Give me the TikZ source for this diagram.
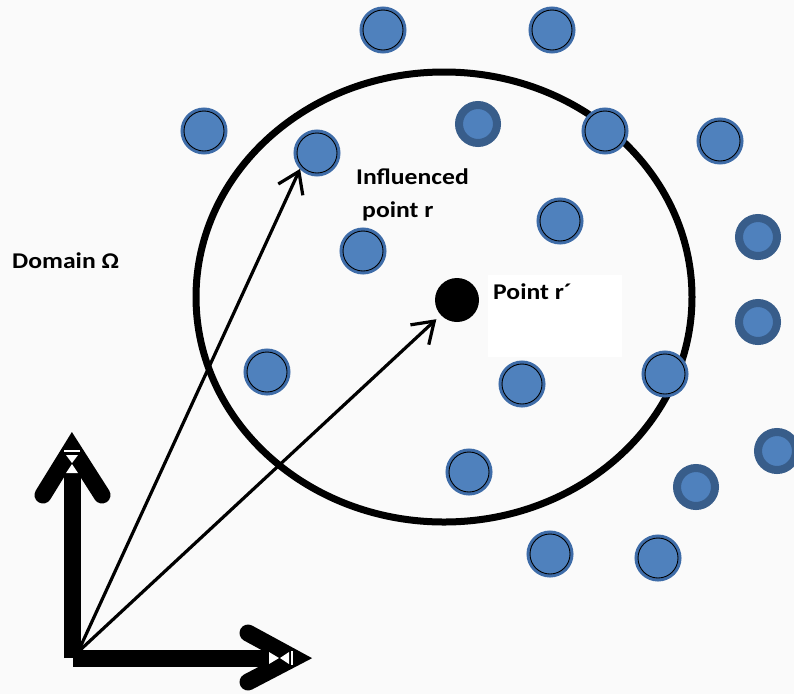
\documentclass[tikz,border=0pt]{standalone}
\usepackage{fontspec}
\setmainfont{Carlito}
\usepackage{xcolor}
\usetikzlibrary{arrows.meta,positioning,calc}
\definecolor{dotblue}{HTML}{4F81BD}
\definecolor{ringA}{HTML}{3E6CA8}
\definecolor{ringB}{HTML}{385D8A}
\definecolor{paper}{HTML}{FAFAFA}

\begin{document}
\begin{tikzpicture}[x=1pt, y=-1pt,
    dotA/.style={circle, inner sep=0pt, minimum size=40pt, fill=dotblue, draw=black, line width=0.9pt,
                 preaction={draw=ringA, line width=7pt}},
    dotB/.style={circle, inner sep=0pt, minimum size=38pt, fill=dotblue, draw=ringB, line width=8pt},
    lbl/.style={inner sep=0pt, font=\fontsize{22.5}{27}\selectfont\bfseries, xscale=1.14},
    vec/.style={line width=3.2pt, -{Straight Barb[length=20pt, width=27pt]}},
    axisbar/.style={line width=17pt}]
    \useasboundingbox (0,0) rectangle (794,694);
    \fill[paper] (0,0) rectangle (794,694);

    % the domain of influence
    \draw[line width=7pt] (444,297) ellipse [x radius=248, y radius=225];

    % particles
    \foreach \nm/\x/\y in {t1/383/30, t2/552/30, a1/204/131, pr/317/153, a3/605/131,
                           a4/720/141, a5/560/221, a6/363/251, a7/267/372, a8/522/384,
                           a9/665/374, a10/469/472, a11/550/554, a12/658/558}
        \node[dotA] (\nm) at (\x,\y) {};
    \foreach \nm/\x/\y in {b1/478/124, b2/758/237, b3/758/322, b4/696/487, b5/777/451}
        \node[dotB] (\nm) at (\x,\y) {};

    \node[circle, fill=black, inner sep=0pt, minimum size=44pt] (rp) at (457,300) {};

    % labels
    \fill[white] (488,275) rectangle (622,357);
    \node[lbl, anchor=base west] (dom) at (12,268) {Domain Ω};
    \node[lbl, anchor=base west] (infl) at (356,184) {Influenced};
    \node[lbl, anchor=base west] (ptr) at (362,217) {point r};
    \node[lbl, anchor=base west] (ptrp) at (493,299) {Point r´};

    % axes
    \draw[axisbar] (72,658) -- (72,452);
    \draw[axisbar] (73,658) -- (292,658);
    \draw[axisbar, line cap=round] (43,495) -- (72,448) -- (102,495);
    \draw[axisbar, line cap=round] (248,633) -- (294,658) -- (248,682);
    \draw[white, line width=1.2pt] (64,451) -- (80,451);
    \fill[white] (66,455) -- (78,455) -- (72,463) -- cycle;
    \fill[white] (72,464) -- (66,473) -- (78,473) -- cycle;
    \draw[white, line width=1.2pt] (292,651) -- (292,665);
    \fill[white] (289,652) -- (289,664) -- (280,658) -- cycle;
    \fill[white] (279,658) -- (269,652) -- (269,664) -- cycle;

    % position vectors
    \coordinate (o) at (78,652);
    \draw[vec, shorten >=6pt] (o) -- (rp);
    \draw[vec, shorten >=3pt] (o) -- (pr.220);
\end{tikzpicture}
\end{document}
